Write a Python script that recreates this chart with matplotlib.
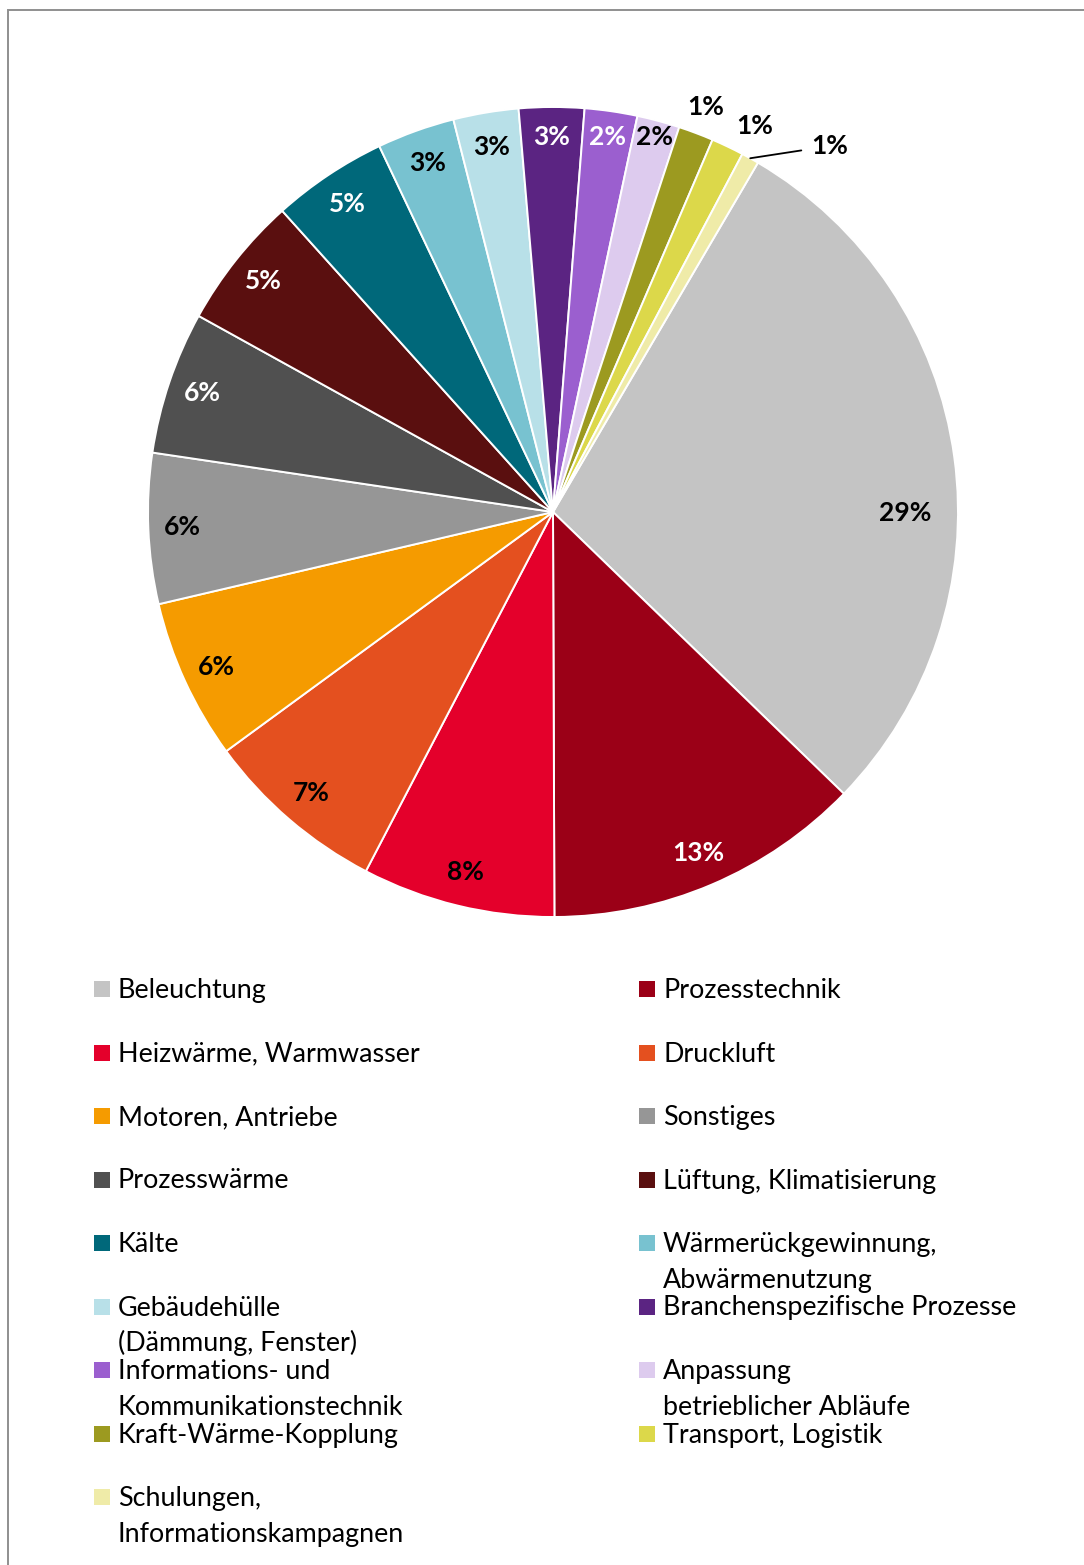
import numpy as np
import matplotlib.pyplot as plt
from matplotlib.patches import Rectangle

# Anteile der Maßnahmenbereiche in %
categories = [
    "Beleuchtung", "Prozesstechnik", "Heizwärme, Warmwasser", "Druckluft",
    "Motoren, Antriebe", "Sonstiges", "Prozesswärme", "Lüftung, Klimatisierung",
    "Kälte", "Wärmerückgewinnung,\nAbwärmenutzung",
    "Gebäudehülle\n(Dämmung, Fenster)", "Branchenspezifische Prozesse",
    "Informations- und\nKommunikationstechnik", "Anpassung\nbetrieblicher Abläufe",
    "Kraft-Wärme-Kopplung", "Transport, Logistik",
    "Schulungen,\nInformationskampagnen",
]
shares = [28.8, 12.7, 7.7, 7.3, 6.4, 6.0, 5.7, 5.3, 4.6, 3.1, 2.6, 2.6, 2.1, 1.7, 1.4, 1.3, 0.7]
colors = [
    "#c4c4c4", "#9b0017", "#e4002b", "#e4501f", "#f59b00", "#969696", "#505050",
    "#5a0f0f", "#00687a", "#78c2d0", "#b8e0e8", "#5b2482", "#9b5fcf", "#ddcbee",
    "#9c9a20", "#dcd84a", "#efeba8",
]
label_colors = [
    "black", "white", "black", "black", "black", "black", "white", "white",
    "white", "black", "black", "white", "white", "black", "black", "black", "black",
]

plt.rcParams["font.family"] = ["Lato", "DejaVu Sans"]

W, H = 1084, 1565
fig = plt.figure(figsize=(W / 100, H / 100), dpi=100)

# Rahmen (nur oben und links sichtbar)
fig.patches.append(Rectangle((8 / W, -0.1), 1.2, (H - 10) / H + 0.1,
                             transform=fig.transFigure, fill=False,
                             edgecolor="#8f8f8f", lw=1.4))

cx, cy, r = 553, 512, 405
pad = 1.1
ax = fig.add_axes([(cx - r * pad) / W, (H - cy - r * pad) / H,
                   2 * r * pad / W, 2 * r * pad / H])

wedges, _ = ax.pie(shares, colors=colors, startangle=59.6, counterclock=False,
                   radius=1.0, wedgeprops=dict(edgecolor="white", linewidth=1.4))
ax.set_xlim(-pad, pad)
ax.set_ylim(-pad, pad)
ax.set_aspect("equal")

# Abstand der Prozentlabels vom Mittelpunkt (Anteil des Radius)
label_radius = [0.87] + [0.915] * 10 + [0.925, 0.935, 0.96, 1.068, 1.075]

n = len(shares)
lab_kw = dict(fontsize=19, fontweight="bold")
for i, (w, v) in enumerate(zip(wedges, shares)):
    mid = (w.theta1 + w.theta2) / 2
    txt = f"{v:.0f}%"
    if i == n - 1:
        a = np.deg2rad(mid)
        ex, ey = np.cos(a), np.sin(a)
        ax.annotate(txt, xy=(ex, ey), xytext=(ex + 0.15, ey + 0.03),
                    ha="left", va="center", color="black",
                    arrowprops=dict(arrowstyle="-", color="black", lw=1.3,
                                    shrinkA=5, shrinkB=0), **lab_kw)
        continue
    if i == 0:
        mid -= 8
    elif i == n - 2:
        mid -= 2
    rr = label_radius[i]
    a = np.deg2rad(mid)
    ax.text(rr * np.cos(a), rr * np.sin(a), txt, ha="center", va="center",
            color=label_colors[i], **lab_kw)

# Legende in zwei Spalten
col_x = [94, 639]
row_y0, row_step, line_step = 989, 63.5, 36
for i, (lab, c) in enumerate(zip(categories, colors)):
    x0 = col_x[i % 2]
    y0 = row_y0 + (i // 2) * row_step
    fig.patches.append(Rectangle((x0 / W, (H - y0 - 8) / H), 16 / W, 16 / H,
                                 transform=fig.transFigure, facecolor=c,
                                 edgecolor="none"))
    for k, line in enumerate(lab.split("\n")):
        fig.text((x0 + 24) / W, (H - y0 - 9 - k * line_step) / H, line,
                 ha="left", va="baseline", fontsize=19.4, color="black")

fig.savefig("out.png", dpi=100)
